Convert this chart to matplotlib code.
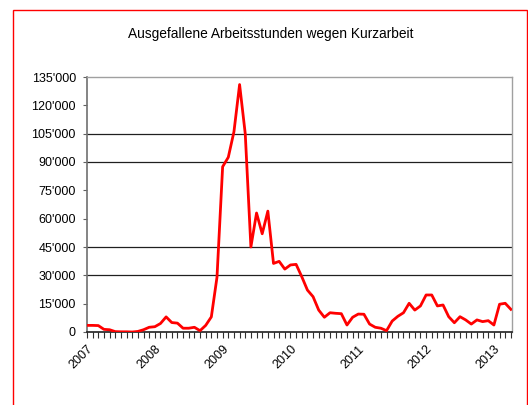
import matplotlib
matplotlib.use("Agg")
import matplotlib.pyplot as plt
from matplotlib.patches import Rectangle
from matplotlib.ticker import FuncFormatter, MultipleLocator
import numpy as np

plt.rcParams['font.family'] = ['Liberation Sans', 'DejaVu Sans']

title = "Ausgefallene Arbeitsstunden wegen Kurzarbeit"

# monthly values, Jan 2007 - Apr 2013 (hours)
hours = [
    3500, 3500, 3400, 1400, 1200, 200, 100, 100, 0, 300, 1200, 2500,
    2800, 4500, 8000, 5000, 4700, 2000, 2000, 2500, 700, 3500, 8000, 29000,
    87500, 92500, 106000, 131000, 105000, 45000, 63000, 52000, 64000, 36300, 37400, 33300,
    35500, 35800, 29300, 22200, 18700, 11600, 7800, 10200, 9900, 9700, 3700, 7800,
    9500, 9400, 4200, 2500, 2000, 700, 5800, 8300, 10200, 15200, 11600, 13800,
    19600, 19600, 13800, 14300, 8100, 4900, 8100, 6400, 4200, 6400, 5500, 6000,
    3700, 14700, 15200, 12000,
]
years = ["2007", "2008", "2009", "2010", "2011", "2012", "2013"]
grid_levels = [30000, 45000, 90000, 105000]

months = np.arange(len(hours))

fig = plt.figure(figsize=(5.28, 4.05), dpi=100)
fig.patches.append(Rectangle((13 / 528, -0.1), 514 / 528, (395 / 405) + 0.1,
                             transform=fig.transFigure, fill=False,
                             edgecolor='red', linewidth=1.0))

ax = fig.add_axes([87 / 528, 73 / 405, 425 / 528, 255 / 405])

for lvl in grid_levels:
    ax.axhline(lvl, color='#202020', linewidth=0.9, zorder=1)

ax.plot(months, hours, color='red', linewidth=2.0, zorder=3)

ax.set_xlim(0, len(hours) - 0.8)
ax.set_ylim(0, 135000)
ax.yaxis.set_major_locator(MultipleLocator(15000))
ax.yaxis.set_major_formatter(FuncFormatter(lambda v, p: "0" if v == 0 else f"{int(v):,}".replace(",", "'")))

ax.set_xticks(months[::12])
ax.set_xticklabels(years, rotation=45, ha='right', va='top', rotation_mode='anchor')
ax.set_xticks(months, minor=True)
ax.tick_params(axis='x', which='both', direction='out', length=4, width=0.8, color='#303030',
               labelsize=9, pad=4)
ax.tick_params(axis='y', direction='out', length=3, width=0.8, color='#606060', labelsize=9, pad=5)

for side in ['top', 'right']:
    ax.spines[side].set_color('#a0a0a0')
    ax.spines[side].set_linewidth(1.0)
ax.spines['left'].set_color('#707070')
ax.spines['left'].set_linewidth(1.2)
ax.spines['bottom'].set_color('#202020')
ax.spines['bottom'].set_linewidth(1.2)

fig.text(271 / 528, 1 - 34 / 405, title, ha='center', va='center', fontsize=9.9)

fig.savefig("out.png", dpi=100)
